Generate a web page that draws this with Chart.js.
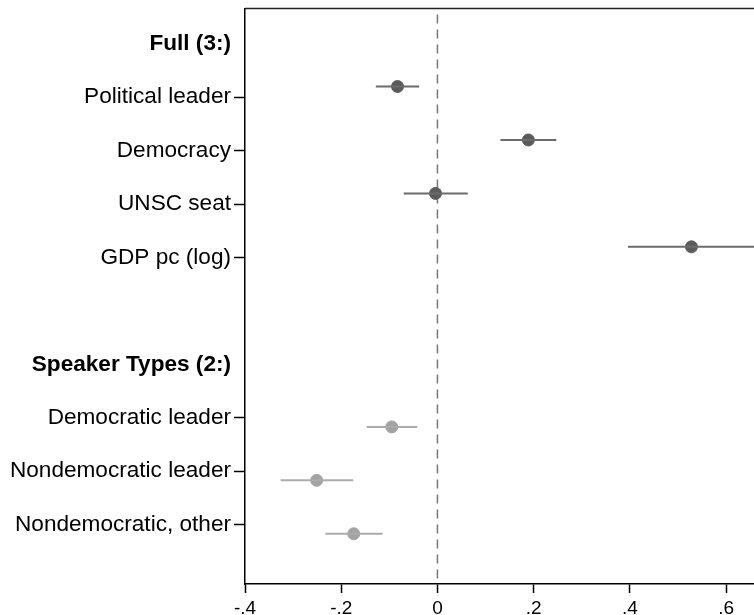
<!DOCTYPE html>
<html>
<head>
<meta charset="utf-8">
<script src="https://cdn.jsdelivr.net/npm/chart.js@4"></script>
<style>
  html, body { margin: 0; padding: 0; background: #fff; overflow: hidden; }
  #wrap { width: 754px; height: 615px; }
</style>
</head>
<body>
<div id="wrap"><canvas id="myChart" width="754" height="615"></canvas></div>
<script>
// rows on the y axis, top to bottom ('' = spacer row)
const rowLabels = ['Full (3:)', 'Political leader', 'Democracy', 'UNSC seat', 'GDP pc (log)', '',
    'Speaker Types (2:)', 'Democratic leader', 'Nondemocratic leader', 'Nondemocratic, other'];
const headerRows = ['Full (3:)', 'Speaker Types (2:)'];

// model 1: full
const fullTerms = ['Political leader', 'Democracy', 'UNSC seat', 'GDP pc (log)'];
const fullCoef = [-0.083, 0.189, -0.004, 0.528];
const fullLow = [-0.128, 0.131, -0.070, 0.396];
const fullHigh = [-0.038, 0.247, 0.063, 0.660];

// model 2: speaker types
const speakerTerms = ['Democratic leader', 'Nondemocratic leader', 'Nondemocratic, other'];
const speakerCoef = [-0.095, -0.251, -0.174];
const speakerLow = [-0.147, -0.326, -0.233];
const speakerHigh = [-0.042, -0.175, -0.114];

const xTicks = [-0.4, -0.2, 0, 0.2, 0.4, 0.6];

const FONT = '"Liberation Sans", Arial, Helvetica, sans-serif';
const fullDot = '#5b5b5b', fullLine = '#6b6b6b';
const spkDot = '#a3a3a3', spkLine = '#ababab';

function row(term) { return rowLabels.indexOf(term); }

function ciSets(terms, lo, hi, offset, color) {
    return terms.map((t, i) => ({
        type: 'scatter',
        showLine: true,
        data: [{ x: lo[i], y: row(t) + offset }, { x: hi[i], y: row(t) + offset }],
        borderColor: color,
        borderWidth: 2,
        pointRadius: 0,
        pointHoverRadius: 0
    }));
}

function dotSet(terms, coef, offset, color) {
    return {
        type: 'scatter',
        data: terms.map((t, i) => ({ x: coef[i], y: row(t) + offset })),
        backgroundColor: color,
        borderColor: color,
        pointRadius: 6,
        pointHoverRadius: 6
    };
}

const datasets = [
    ...ciSets(fullTerms, fullLow, fullHigh, -0.2, fullLine),
    ...ciSets(speakerTerms, speakerLow, speakerHigh, 0.17, spkLine),
    dotSet(fullTerms, fullCoef, -0.2, fullDot),
    dotSet(speakerTerms, speakerCoef, 0.17, spkDot)
];

// dashed reference line at zero + top frame line
const framePlugin = {
    id: 'frame',
    beforeDatasetsDraw(chart) {
        const { ctx, chartArea, scales } = chart;
        const x0 = scales.x.getPixelForValue(0);
        ctx.save();
        ctx.strokeStyle = '#777';
        ctx.lineWidth = 1.5;
        ctx.setLineDash([9, 6]);
        ctx.beginPath();
        ctx.moveTo(x0, chartArea.top + 6);
        ctx.lineTo(x0, chartArea.bottom);
        ctx.stroke();
        ctx.restore();
    },
    afterDraw(chart) {
        const { ctx, chartArea } = chart;
        ctx.save();
        ctx.strokeStyle = '#222';
        ctx.lineWidth = 1.5;
        ctx.beginPath();
        ctx.moveTo(chartArea.left, chartArea.top);
        ctx.lineTo(chartArea.right + 2, chartArea.top);
        ctx.stroke();
        ctx.restore();
    }
};

const ctx = document.getElementById('myChart');
let chart = new Chart(ctx, {
    type: 'scatter',
    data: { datasets: datasets },
    options: {
        responsive: false,
        animation: false,
        layout: { autoPadding: false, padding: { top: 8.5, right: 0, left: 0, bottom: 0 } },
        plugins: {
            legend: { display: false },
            tooltip: { enabled: false }
        },
        scales: {
            x: {
                type: 'linear',
                min: -0.4,
                max: 0.658,
                afterBuildTicks: (s) => { s.ticks = xTicks.map(v => ({ value: v })); },
                afterFit: (s) => { s.height = 31; s.paddingLeft = 0; s.paddingRight = 0; },
                ticks: {
                    color: '#000',
                    font: { family: FONT, size: 19 },
                    padding: 4,
                    maxRotation: 0,
                    callback: (v) => v === 0 ? '0' : (v < 0 ? '-' : '') + String(Math.abs(v).toFixed(1)).replace(/^0/, '')
                },
                grid: { drawOnChartArea: false, tickLength: 9, tickWidth: 1.5, tickColor: '#000' },
                border: { color: '#000', width: 1.5 }
            },
            y: {
                type: 'linear',
                reverse: true,
                min: -0.66,
                max: 10.11,
                afterBuildTicks: (s) => { s.ticks = rowLabels.map((_, i) => ({ value: i })); },
                afterFit: (s) => { s.width = 245; s.paddingTop = 0; s.paddingBottom = 0; },
                ticks: {
                    color: '#000',
                    padding: 3,
                    autoSkip: false,
                    font: (c) => ({
                        family: FONT,
                        size: 22.6,
                        weight: c.tick && headerRows.includes(rowLabels[c.tick.value]) ? 'bold' : 'normal'
                    }),
                    callback: (v) => rowLabels[v]
                },
                grid: {
                    drawOnChartArea: false,
                    tickLength: 11,
                    tickWidth: 1.5,
                    tickColor: (c) => {
                        const lab = c.tick ? rowLabels[c.tick.value] : '';
                        return (lab === '' || headerRows.includes(lab)) ? 'rgba(0,0,0,0)' : '#000';
                    }
                },
                border: { color: '#000', width: 1.5 }
            }
        }
    },
    plugins: [framePlugin]
});
</script>
</body>
</html>
